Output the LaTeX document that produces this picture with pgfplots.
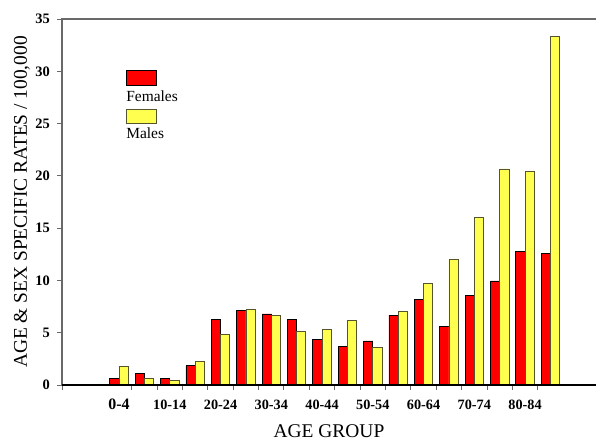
\documentclass[border=0pt]{standalone}
\usepackage{pgfplots}
\pgfplotsset{compat=1.18}
\usepackage{pgfplotstable}
\usepackage{fontspec}
\setmainfont{Liberation Serif}
\definecolor{barred}{RGB}{255,0,0}
\definecolor{baryel}{RGB}{255,255,80}
\definecolor{yeledge}{RGB}{85,85,45}
\definecolor{axgray}{RGB}{105,105,105}
\pgfplotstableread{
x F M
0 0.64 1.75
1 1.08 0.64
2 0.64 0.45
3 1.85 2.27
4 6.28 4.85
5 7.14 7.24
6 6.79 6.69
7 6.28 5.16
8 4.33 5.32
9 3.70 6.19
10 4.21 3.57
11 6.69 7.05
12 8.22 9.75
13 5.61 12.02
14 8.54 16.00
15 9.95 20.66
16 12.78 20.43
17 12.56 33.31
}\datatable
\begin{document}
\begin{tikzpicture}
\begin{axis}[
  at={(0,0)}, anchor=south west,
  scale only axis, width=534bp, height=366bp,
  xmin=-2.246, xmax=18.794, ymin=0, ymax=35,
  ybar, bar width=9.2bp,
  axis line style={draw=none},
  /pgf/number format/assume math mode=true,
  ytick={0,5,...,35},
  xtick={-2.246,0.5,1.5,...,16.5},
  xticklabels={},
  extra x ticks={0,2,...,16},
  extra x tick labels={{\fontsize{16}{17}\selectfont 0-4},10-14,20-24,30-34,40-44,50-54,60-64,70-74,80-84},
  extra x tick style={major tick length=0pt},
  xtick pos=bottom, ytick pos=left,
  tick align=outside,
  major tick length=5bp,
  tick style={axgray, line width=1pt},
  yticklabel style={font=\fontsize{14.5}{15}\selectfont\bfseries, anchor=east, inner sep=0pt, xshift=-7bp},
  xticklabel style={font=\fontsize{14.3}{15}\selectfont\bfseries, anchor=center, inner sep=0pt, yshift=-19.5bp},
  xlabel={AGE GROUP},
  ylabel={AGE \& SEX SPECIFIC RATES / 100,000},
  every axis x label/.style={at={(rel axis cs:0.5,0)}, yshift=-46bp, anchor=center, font=\fontsize{19.5}{20}\selectfont},
  every axis y label/.style={at={(rel axis cs:0,0.5)}, xshift=-40bp, rotate=90, anchor=center, font=\fontsize{19.5}{20}\selectfont},
  clip=false,
]
\addplot[fill=barred, draw=black, line width=0.8pt, bar shift=-4.6bp] table[x=x,y=F]{\datatable};
\addplot[fill=baryel, draw=yeledge, line width=0.8pt, bar shift=4.6bp] table[x=x,y=M]{\datatable};
\draw[axgray, line width=1.2pt] (rel axis cs:0,0) -- (rel axis cs:0,1) -- (rel axis cs:1,1);
\draw[black, line width=1.5pt] (rel axis cs:0,0) -- (rel axis cs:1,0);
% legend
\draw[black, line width=0.8pt, fill=barred] (axis cs:0.28,28.66) rectangle (axis cs:1.458,30.06);
\node[anchor=base west, inner sep=0pt, font=\fontsize{15.5}{16}\selectfont] at (axis cs:0.28,27.09) {Females};
\draw[yeledge, line width=0.8pt, fill=baryel] (axis cs:0.28,25.0) rectangle (axis cs:1.458,26.39);
\node[anchor=base west, inner sep=0pt, font=\fontsize{15.5}{16}\selectfont] at (axis cs:0.28,23.53) {Males};
\end{axis}
\pgfresetboundingbox
\path[use as bounding box] (-62bp,-56bp) rectangle (534bp,385bp);
\end{tikzpicture}
\end{document}
